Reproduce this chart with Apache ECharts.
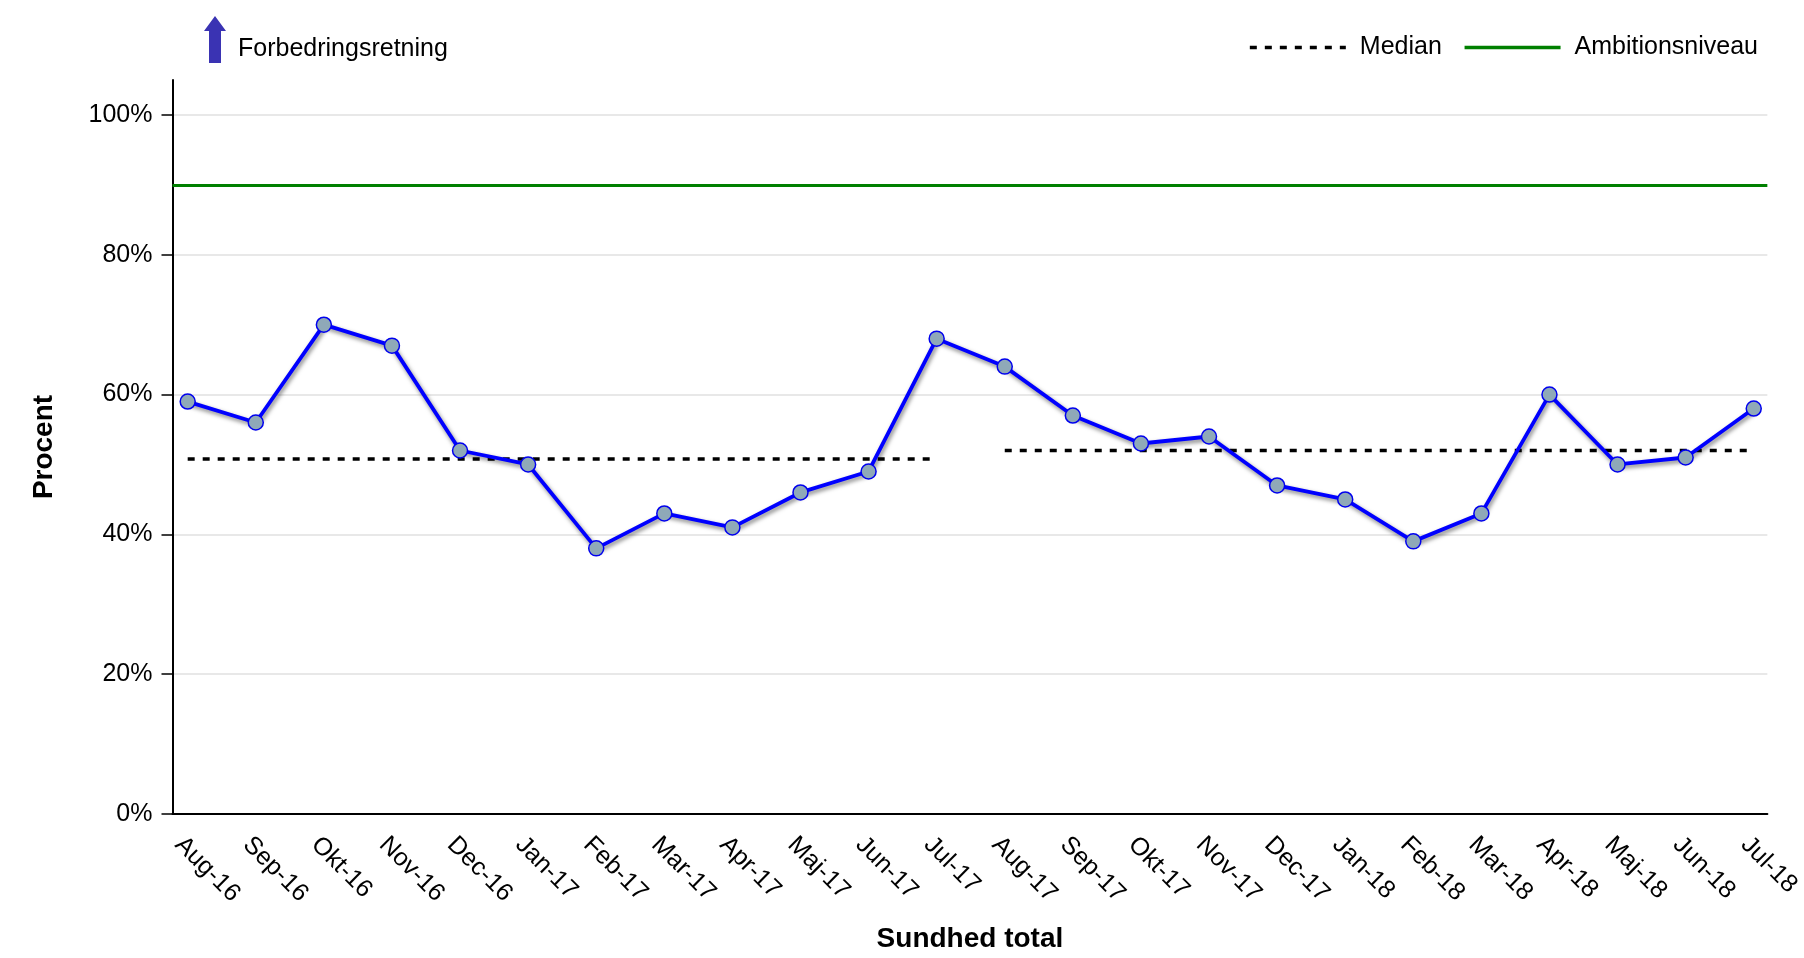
<!DOCTYPE html>
<html><head><meta charset="utf-8">
<script src="https://cdn.jsdelivr.net/npm/echarts@6/dist/echarts.min.js"></script>
<style>html,body{margin:0;padding:0;background:#fff}#c{width:1804px;height:958px}</style>
</head><body><div id="c"></div>
<script>
const months = ['Aug-16','Sep-16','Okt-16','Nov-16','Dec-16','Jan-17','Feb-17','Mar-17','Apr-17','Maj-17','Jun-17','Jul-17',
                'Aug-17','Sep-17','Okt-17','Nov-17','Dec-17','Jan-18','Feb-18','Mar-18','Apr-18','Maj-18','Jun-18','Jul-18'];
const procent = [59,56,70,67,52,50,38,43,41,46,49,68,64,57,53,54,47,45,39,43,60,50,51,58];
const medianValues = [50.8, 52];
const medianStart = [0, 12];
const medianEnd = [11, 23];
const ambition = 90;
const yTicks = [0,20,40,60,80,100];

const FONT = '"Liberation Sans", Arial, sans-serif';
const chart = echarts.init(document.getElementById('c'), null, {renderer:'canvas'});

const medianSeries = medianValues.map((m, k) => ({
  name: 'Median', type: 'line', symbol: 'none', silent: true, z: 2,
  data: [[medianStart[k], m], [medianEnd[k], m]],
  lineStyle: {color: '#000', width: 3.5, type: [7, 8]}
}));

chart.setOption({
  animation: false,
  backgroundColor: '#ffffff',
  textStyle: {fontFamily: FONT},
  grid: {left: 172.5, right: 36, top: 80, bottom: 134.5, containLabel: false},
  legend: {
    data: ['Median', 'Ambitionsniveau'],
    right: 41, top: 30,
    itemWidth: 96, itemHeight: 14, itemGap: 21,
    itemStyle: {opacity: 0},
    lineStyle: {width: 3.5},
    textStyle: {fontSize: 25, color: '#000', fontFamily: FONT, padding: [0,0,0,9]}
  },
  xAxis: {
    type: 'value', min: -0.223, max: 23.2,
    name: 'Sundhed total', nameLocation: 'middle', nameGap: 111,
    nameTextStyle: {fontSize: 28, fontWeight: 'bold', color: '#000', fontFamily: FONT},
    axisLine: {show: true, onZero: false, lineStyle: {color: '#000', width: 2}},
    axisTick: {show: false},
    splitLine: {show: false},
    axisLabel: {
      customValues: months.map((_, i) => i),
      formatter: v => months[Math.round(v)] || '',
      rotate: -45, fontSize: 25, color: '#000', margin: 18, verticalAlign: 'top', fontFamily: FONT
    }
  },
  yAxis: {
    type: 'value', min: 0, max: 105,
    name: 'Procent', nameLocation: 'middle', nameGap: 114, nameRotate: 90,
    nameTextStyle: {fontSize: 28, fontWeight: 'bold', color: '#000', fontFamily: FONT},
    axisLine: {show: true, onZero: false, lineStyle: {color: '#000', width: 2}},
    axisTick: {show: true, length: 11, customValues: yTicks, lineStyle: {color: '#000', width: 1.5}},
    axisLabel: {customValues: yTicks, formatter: '{value}%', fontSize: 25, color: '#000', margin: 20, fontFamily: FONT},
    splitLine: {show: true, lineStyle: {color: '#e8e8e8', width: 2}}
  },
  series: [
    {
      name: 'Procent', type: 'line', z: 4,
      data: procent.map((v, i) => [i, v]),
      symbol: 'circle', symbolSize: 15,
      itemStyle: {color: '#8fa9b8', borderColor: '#0000ee', borderWidth: 1.5},
      lineStyle: {color: '#0000ff', width: 3.8, shadowColor: 'rgba(0,0,0,0.5)', shadowBlur: 4, shadowOffsetX: 1.5, shadowOffsetY: 2.5}
    },
    ...medianSeries,
    {
      name: 'Ambitionsniveau', type: 'line', symbol: 'none', data: [],
      lineStyle: {color: '#008000', width: 3},
      itemStyle: {color: '#008000'},
      markLine: {
        silent: true, symbol: ['none', 'none'], label: {show: false},
        lineStyle: {color: '#008000', width: 3, type: 'solid'},
        data: [{yAxis: ambition}]
      }
    }
  ],
  graphic: [
    {type: 'polygon', left: 204, top: 16, silent: true,
     shape: {points: [[11,0],[22,15],[17,15],[17,47],[5,47],[5,15],[0,15]]},
     style: {fill: '#3a33b3'}},
    {type: 'text', left: 238, top: 37, silent: true,
     style: {text: 'Forbedringsretning', fontSize: 25, fill: '#000', fontFamily: FONT}}
  ]
});
</script>
</body></html>
